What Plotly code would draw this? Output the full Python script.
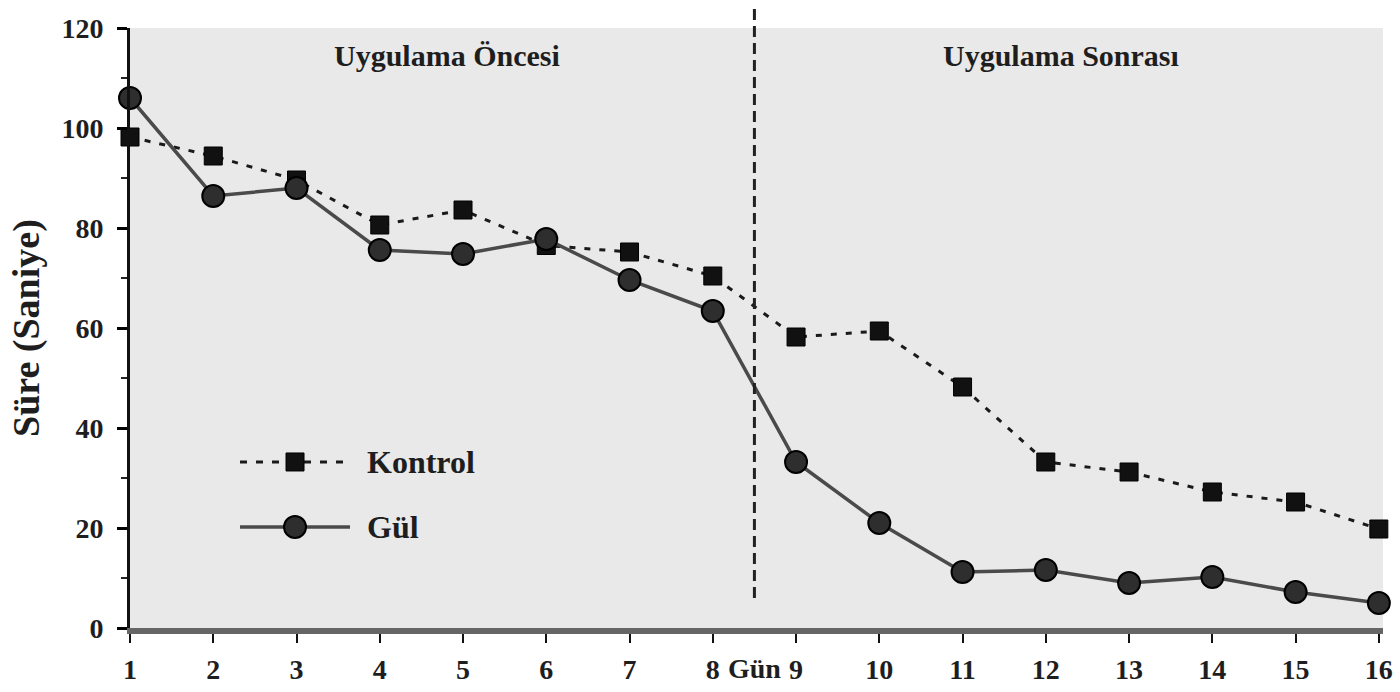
import plotly.graph_objects as go

days = list(range(1, 17))
tick_labels = [str(d) for d in days]
gul = [106, 86.4, 88, 75.6, 74.8, 77.8, 69.6, 63.4, 33.2, 21, 11.2, 11.6, 9, 10.2, 7.2, 5]
kontrol = [98.2, 94.4, 89.6, 80.6, 83.6, 76.5, 75.2, 70.4, 58.2, 59.4, 48.2, 33.2, 31.2, 27.2, 25.2, 19.8]
y_ticks = [0, 20, 40, 60, 80, 100, 120]
phase_labels = ["Uygulama Öncesi", "Uygulama Sonrası"]
phase_label_x = [4.81, 12.18]
phase_label_y = 114.6
split_day = 8.5
split_y = [6, 125]

XMIN, XMAX = 1, 16.05
YMIN, YMAX = 0, 120
SERIF = "Liberation Serif, Times New Roman, serif"
TXT = "#1e1e1e"

fig = go.Figure()
fig.add_trace(go.Scatter(
    x=days, y=kontrol, name="Kontrol", mode="lines+markers", cliponaxis=False,
    line=dict(color="#1a1a1a", width=3, dash="6px,9px"),
    marker=dict(symbol="square", size=18, color="#111111", line=dict(color="#000", width=1)),
))
fig.add_trace(go.Scatter(
    x=days, y=gul, name="Gül", mode="lines+markers", cliponaxis=False,
    line=dict(color="#4a4a4a", width=3.5),
    marker=dict(symbol="circle", size=22, color="#2e2e2e", line=dict(color="#000", width=2)),
))

def px(v):
    return (v - XMIN) / (XMAX - XMIN)

def py(v):
    return (v - YMIN) / (YMAX - YMIN)

LEG_X0, LEG_X1, LEG_XM, LEG_XT = 0.0878, 0.1756, 0.1317, 0.1876
LEG_Y = [0.2767, 0.1683]

shapes = [
    dict(type="line", xref="paper", yref="paper", x0=px(split_day), x1=px(split_day),
         y0=py(split_y[0]), y1=py(split_y[1]), line=dict(color="#222", width=3, dash="11px,6px")),
    # legend: Kontrol
    dict(type="line", xref="paper", yref="paper", x0=LEG_X0, x1=LEG_X1, y0=LEG_Y[0], y1=LEG_Y[0],
         line=dict(color="#1a1a1a", width=3, dash="7px,9px")),
    dict(type="rect", xref="paper", yref="paper", xsizemode="pixel", ysizemode="pixel",
         xanchor=LEG_XM, yanchor=LEG_Y[0], x0=-9, x1=9, y0=-9, y1=9,
         fillcolor="#111111", line=dict(color="#000", width=1)),
    # legend: Gül
    dict(type="line", xref="paper", yref="paper", x0=LEG_X0, x1=LEG_X1, y0=LEG_Y[1], y1=LEG_Y[1],
         line=dict(color="#4a4a4a", width=3.5)),
    dict(type="circle", xref="paper", yref="paper", xsizemode="pixel", ysizemode="pixel",
         xanchor=LEG_XM, yanchor=LEG_Y[1], x0=-11, x1=11, y0=-11, y1=11,
         fillcolor="#2e2e2e", line=dict(color="#000", width=2)),
]

annotations = [
    dict(text=phase_labels[i], x=phase_label_x[i], y=phase_label_y, xref="x", yref="y",
         xanchor="center", yanchor="middle",
         showarrow=False, font=dict(family=SERIF, size=30, color=TXT, weight="bold"))
    for i in range(2)
]
annotations += [
    dict(text="Kontrol", x=LEG_XT, y=LEG_Y[0], xref="paper", yref="paper", xanchor="left", yanchor="middle",
         showarrow=False, font=dict(family=SERIF, size=32, color=TXT, weight="bold")),
    dict(text="Gül", x=LEG_XT, y=LEG_Y[1], xref="paper", yref="paper", xanchor="left", yanchor="middle",
         showarrow=False, font=dict(family=SERIF, size=32, color=TXT, weight="bold")),
    dict(text="Gün", x=px(split_day), y=-0.0667, xref="paper", yref="paper", xanchor="center", yanchor="middle",
         showarrow=False, font=dict(family=SERIF, size=28, color=TXT, weight="bold")),
    dict(text="Süre (Saniye)", x=-0.083, y=0.5, xref="paper", yref="paper", textangle=-90,
         xanchor="center", yanchor="middle",
         showarrow=False, font=dict(family=SERIF, size=38, color=TXT, weight="bold")),
]

fig.update_layout(
    width=1400, height=692,
    margin=dict(l=130, r=17, t=28, b=64, autoexpand=False),
    paper_bgcolor="white", plot_bgcolor="#e9e9e9",
    showlegend=False,
    shapes=shapes, annotations=annotations,
    font=dict(family=SERIF, color=TXT),
)
fig.update_xaxes(
    range=[XMIN, XMAX], tickvals=days, ticktext=tick_labels, automargin=False,
    showgrid=False, zeroline=False, showline=True, linecolor="#666666", linewidth=6,
    ticks="outside", ticklen=9, tickwidth=2, tickcolor="#111",
    ticklabelstandoff=2,
    tickfont=dict(family=SERIF, size=28, color=TXT, weight="bold"),
)
fig.update_yaxes(
    range=[YMIN, YMAX], tickvals=y_ticks, automargin=False,
    showgrid=False, zeroline=False, showline=True, linecolor="#111", linewidth=3,
    ticks="outside", ticklen=10, tickwidth=3, tickcolor="#000",
    ticklabelstandoff=8,
    minor=dict(dtick=10, ticks="outside", ticklen=6, tickwidth=2, tickcolor="#222"),
    tickfont=dict(family=SERIF, size=28, color=TXT, weight="bold"),
)

fig.write_html("out.html", config={"displayModeBar": False},
               post_script="document.body.style.margin='0';document.body.style.overflow='hidden';")
